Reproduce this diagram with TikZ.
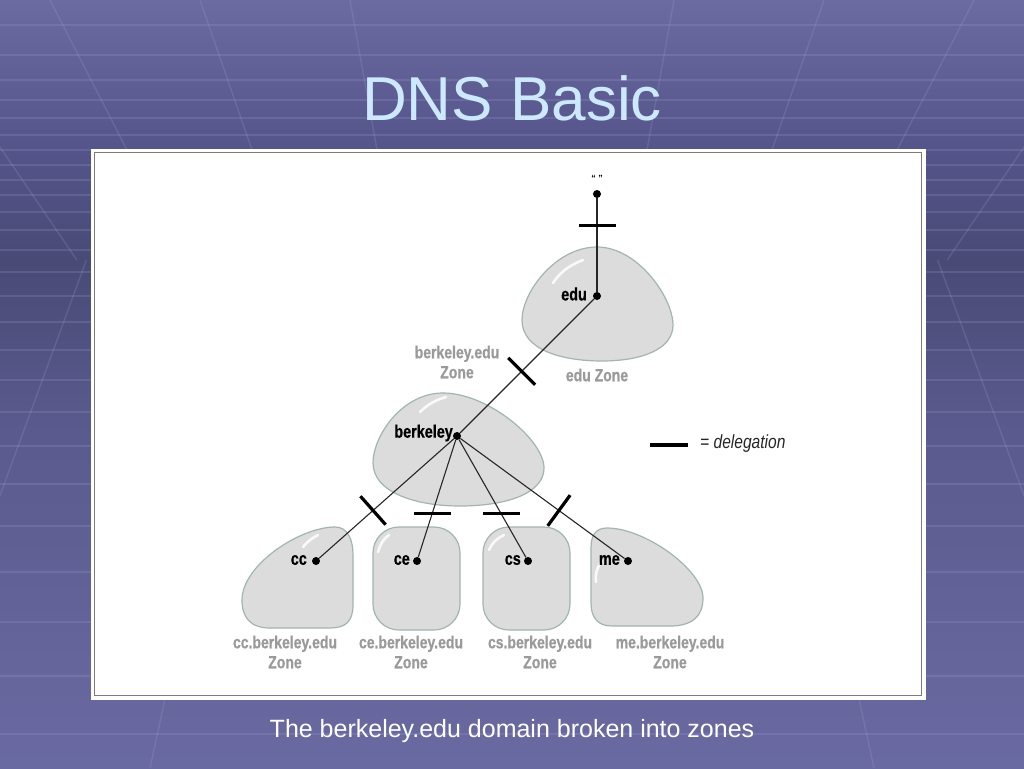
\documentclass[tikz,border=0pt]{standalone}
\usepackage{fontspec}
\setmainfont{Liberation Sans}
\newfontfamily\cond[FakeStretch=0.82]{Liberation Sans}
\newfontfamily\condb[FakeStretch=0.80, FakeBold=0.6]{Liberation Sans}
\definecolor{bgA}{HTML}{6B6BA2}
\definecolor{bgB}{HTML}{54548A}
\definecolor{bgC}{HTML}{4A4A76}
\definecolor{bgD}{HTML}{5A5A8E}
\definecolor{bgE}{HTML}{6A6AA2}
\definecolor{gridc}{HTML}{A0A0D0}
\definecolor{titleblue}{HTML}{CDE9FF}
\definecolor{blobfill}{HTML}{DCDCDC}
\definecolor{blobline}{HTML}{A2B4B4}
\definecolor{zonegray}{HTML}{9A9A9A}
\definecolor{framegray}{HTML}{7C7C7C}
\begin{document}
\begin{tikzpicture}[x=1pt,y=-1pt,
  gridl/.style={draw=gridc, opacity=0.22, line width=1.4pt},
  blob/.style={fill=blobfill, draw=blobline, line width=1.2pt},
  shine/.style={draw=white, line width=2.6pt, line cap=round, opacity=0.85},
  dot/.style={circle, fill=black, inner sep=0pt, minimum size=8pt},
  lbl/.style={font=\condb\bfseries\fontsize{18}{18}\selectfont, text=black, inner sep=0pt},
  zlbl/.style={font=\condb\bfseries\fontsize{17.5}{20}\selectfont, text=zonegray, align=center, inner sep=0pt},
  conn/.style={draw=black!85, line width=1.1pt},
  delegbar/.style={fill=black, inner sep=0pt, minimum width=3.2pt, minimum height=38pt},
  hbar/.style={fill=black, inner sep=0pt, minimum width=37pt, minimum height=3.2pt},
  legbar/.style={draw=black, line width=3.2pt}]
\useasboundingbox (0,0) rectangle (1024,768);
% background
\begin{scope}
\clip (0,0) rectangle (1024,768);
\shade[top color=bgA, bottom color=bgB] (0,0) rectangle (1024,151);
\shade[top color=bgB, bottom color=bgC] (0,150) rectangle (1024,261);
\shade[top color=bgC, bottom color=bgD] (0,260) rectangle (1024,431);
\shade[top color=bgD, bottom color=bgE] (0,430) rectangle (1024,768);
\foreach \yy in {25,55,80,100,118,135,150,165,180,195,212,230,250,272,296,322,350,380,412,446,484,526,572,622,676,734}
  \draw[gridl] (0,\yy) -- (1024,\yy);
\foreach \xx in {-400,-250,-100,50,200,350,674,824,974,1124,1274,1424}{
  \pgfmathsetmacro\xe{\xx+(512-\xx)*0.2889}
  \draw[gridl] (\xx,0) -- (\xe,260);}
\foreach \xx in {-350,-100,150,874,1124,1374}{
  \pgfmathsetmacro\xe{\xx+(512-\xx)*0.3046}
  \draw[gridl] (\xx,768) -- (\xe,260);}
\end{scope}
% title
\node[font=\fontsize{62}{62}\selectfont, text=titleblue, anchor=base] (title) at (512,120) {DNS Basic};
% frame
\draw[draw=white, line width=3pt, fill=white] (92,150) rectangle (924,698);
\draw[draw=framegray, line width=1.6pt] (94.5,152.5) rectangle (921.5,695.5);
% blobs
\path[blob] (597,247) .. controls (638,247) and (673,298) .. (673,325) .. controls (673,350) and (640,361) .. (602,361) .. controls (562,361) and (522,350) .. (522,320) .. controls (522,292) and (556,247) .. (597,247) -- cycle;
\path[blob] (443,393) .. controls (488,393) and (544,440) .. (544,468) .. controls (544,494) and (505,506) .. (460,506) .. controls (415,506) and (373,492) .. (373,463) .. controls (373,436) and (402,393) .. (443,393) -- cycle;
\path[blob] (335,527) .. controls (348,527) and (353,540) .. (353,555) -- (353,605) .. controls (353,622) and (345,628) .. (330,628) -- (270,628) .. controls (250,628) and (242,617) .. (242,600) .. controls (242,565) and (300,527) .. (335,527) -- cycle;
\path[blob, rounded corners=26pt] (373,527) rectangle (460,630);
\path[blob, rounded corners=26pt] (483,527) rectangle (570,630);
\path[blob] (607,528) .. controls (645,528) and (703,570) .. (703,598) .. controls (703,618) and (690,626) .. (670,626) -- (612,626) .. controls (598,626) and (591,618) .. (591,603) -- (591,548) .. controls (591,535) and (596,528) .. (607,528) -- cycle;
% highlights
\draw[shine] (553,283) .. controls (560,272) and (570,265) .. (583,260);
\draw[shine] (420,412) .. controls (428,404) and (436,400) .. (446,397);
\draw[shine] (303,547) .. controls (308,541) and (312,538) .. (318,535);
\draw[shine] (378,552) .. controls (380,545) and (383,539) .. (389,535);
\draw[shine] (489,550) .. controls (492,543) and (496,539) .. (504,535);
\draw[shine] (596,582) .. controls (595,574) and (597,567) .. (602,561);
% nodes
\node[dot] (root) at (597,194) {};
\node[dot] (edu) at (597,296) {};
\node[dot] (berk) at (457,436) {};
\node[dot] (cc) at (316,561) {};
\node[dot] (ce) at (417,561) {};
\node[dot] (cs) at (528,561) {};
\node[dot] (me) at (628,561) {};
% connectors with delegation bars
\draw[conn] (root) -- node[pos=0.29, hbar]{} (edu);
\draw[conn] (edu) -- node[pos=0.54, sloped, delegbar]{} (berk);
\draw[conn] (berk) -- node[pos=0.6, sloped, delegbar]{} (cc);
\draw[conn] (berk) -- node[pos=0.63, hbar]{} (ce);
\draw[conn] (berk) -- node[pos=0.63, hbar]{} (cs);
\draw[conn] (berk) -- node[pos=0.6, sloped, delegbar]{} (me);
% labels
\node[font=\bfseries\fontsize{9}{9}\selectfont, inner sep=0pt] (rootlbl) at (597,178) {“ ”};
\node[lbl, anchor=east] (edulbl) at (587,294) {edu};
\node[lbl, anchor=east] (berklbl) at (453,433) {berkeley};
\node[lbl, anchor=east] (cclbl) at (307,560) {cc};
\node[lbl, anchor=east] (celbl) at (410,560) {ce};
\node[lbl, anchor=east] (cslbl) at (521,560) {cs};
\node[lbl, anchor=east] (melbl) at (620,560) {me};
\node[zlbl] (eduzone) at (597,375) {edu Zone};
\node[zlbl] (berkzone) at (457,362) {berkeley.edu\\Zone};
\node[zlbl] (cczone) at (285,652) {cc.berkeley.edu\\Zone};
\node[zlbl] (cezone) at (411,652) {ce.berkeley.edu\\Zone};
\node[zlbl] (cszone) at (540,652) {cs.berkeley.edu\\Zone};
\node[zlbl] (mezone) at (670,652) {me.berkeley.edu\\Zone};
% legend
\coordinate (lg1) at (650,445);
\coordinate (lg2) at (688,445);
\draw[legbar] (lg1) -- (lg2);
\node[font=\cond\itshape\fontsize{19}{19}\selectfont, anchor=west, inner sep=0pt, text=black!85] (legtxt) at (700,444) {= delegation};
% caption
\node[font=\fontsize{25}{25}\selectfont, text=white, anchor=base] (caption) at (512,737) {The berkeley.edu domain broken into zones};
\end{tikzpicture}
\end{document}
